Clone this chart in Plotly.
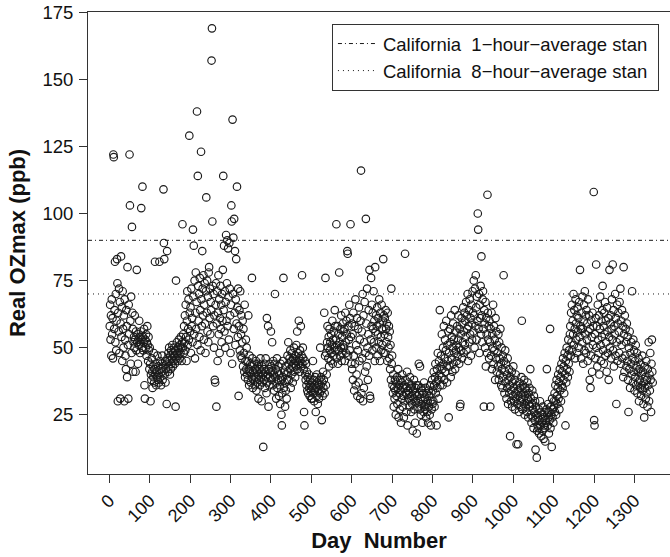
import plotly.graph_objects as go

# Daily maximum ozone (ppb), day 1 onward
ozmax = [
    58, 66, 53, 62, 47, 68, 55, 61, 46, 122, 121, 57, 64, 82, 52, 70, 49, 60, 83, 74,
    30, 63, 56, 72, 48, 67, 31, 59, 84, 54, 65, 45, 71, 57, 50, 62, 30, 68, 53, 47,
    42, 64, 58, 39, 80, 51, 31, 66, 55, 122, 103, 60, 44, 69, 48, 95, 63, 57, 41, 52,
    54, 50, 62, 53, 41, 56, 49, 79, 52, 55, 44, 53, 51, 60, 54, 48, 52, 56, 102, 53,
    50, 110, 54, 49, 52, 57, 36, 31, 53, 50, 55, 47, 52, 58, 51, 45, 54, 49, 42, 50,
    44, 30, 40, 38, 46, 41, 35, 43, 39, 48, 37, 42, 82, 40, 44, 36, 41, 39, 47, 38,
    43, 40, 37, 82, 45, 39, 42, 36, 44, 41, 47, 38, 43, 109, 89, 83, 40, 45, 37, 42,
    44, 29, 86, 46, 41, 48, 43, 50, 45, 40, 47, 42, 49, 44, 46, 51, 43, 48, 45, 50,
    47, 44, 49, 28, 75, 46, 52, 48, 45, 50, 47, 53, 49, 46, 51, 48, 54, 50, 45, 52,
    96, 50, 55, 48, 58, 52, 62, 49, 66, 54, 45, 60, 71, 51, 57, 68, 53, 129, 63, 56,
    65, 48, 72, 58, 61, 52, 94, 69, 88, 55, 75, 46, 63, 78, 57, 67, 138, 51, 114, 73,
    60, 70, 54, 76, 64, 49, 123, 68, 58, 86, 72, 62, 77, 53, 66, 74, 59, 48, 71, 106,
    63, 75, 56, 69, 52, 78, 80, 61, 72, 55, 67, 64, 157, 169, 97, 73, 58, 70, 50, 62,
    38, 37, 66, 74, 28, 59, 71, 45, 63, 77, 55, 68, 48, 61, 73, 57, 66, 52, 70, 60,
    79, 114, 64, 88, 56, 71, 50, 67, 92, 60, 74, 90, 58, 87, 69, 53, 89, 72, 62, 48,
    66, 103, 97, 44, 135, 70, 91, 57, 98, 63, 86, 51, 68, 83, 59, 110, 65, 54, 72, 32,
    58, 64, 49, 71, 47, 55, 62, 46, 52, 60, 43, 57, 48, 41, 66, 39, 45, 53, 42, 50,
    40, 45, 38, 62, 42, 36, 47, 41, 44, 37, 43, 39, 76, 46, 35, 41, 38, 44, 40, 36,
    42, 39, 45, 34, 41, 37, 43, 40, 31, 44, 38, 42, 36, 46, 39, 41, 30, 43, 37, 40,
    13, 42, 38, 44, 35, 41, 46, 39, 33, 61, 37, 40, 58, 28, 42, 36, 44, 39, 41, 56,
    43, 38, 52, 41, 36, 45, 40, 34, 44, 70, 39, 42, 31, 37, 46, 35, 41, 38, 43, 32,
    40, 36, 29, 44, 38, 25, 21, 33, 39, 45, 76, 35, 41, 37, 28, 43, 34, 40, 31, 38,
    47, 41, 52, 44, 38, 46, 42, 49, 35, 45, 40, 48, 43, 37, 46, 44, 50, 41, 45, 39,
    47, 43, 51, 45, 56, 42, 48, 44, 60, 46, 41, 49, 45, 58, 43, 47, 77, 44, 50, 46,
    42, 26, 21, 45, 40, 38, 44, 36, 41, 34, 39, 33, 37, 40, 35, 32, 38, 36, 34, 31,
    37, 31, 35, 45, 33, 38, 30, 36, 34, 39, 26, 35, 32, 40, 37, 29, 34, 36, 31, 38,
    33, 50, 36, 39, 34, 23, 37, 32, 41, 35, 38, 63, 33, 47, 76, 36, 48, 40, 52, 58,
    50, 46, 54, 43, 57, 49, 52, 45, 55, 48, 51, 60, 44, 53, 47, 56, 50, 64, 58, 49,
    53, 96, 46, 51, 58, 44, 55, 49, 78, 52, 47, 57, 50, 62, 45, 54, 48, 59, 51, 56,
    50, 57, 45, 63, 52, 48, 60, 55, 86, 85, 47, 58, 53, 66, 49, 61, 96, 54, 44, 59,
    42, 55, 38, 63, 47, 34, 58, 44, 68, 36, 51, 40, 61, 32, 49, 57, 37, 65, 45, 53,
    31, 60, 116, 33, 56, 46, 70, 30, 62, 35, 52, 67, 41, 48, 98, 59, 43, 72, 50, 38,
    55, 64, 47, 79, 32, 31, 53, 76, 58, 66, 49, 63, 57, 71, 52, 60, 45, 80, 56, 62,
    50, 58, 65, 47, 55, 61, 52, 68, 59, 45, 63, 54, 49, 66, 57, 51, 60, 83, 48, 62,
    55, 61, 48, 64, 57, 52, 59, 45, 63, 54, 50, 58, 46, 56, 42, 51, 38, 72, 44, 47,
    36, 33, 40, 28, 35, 31, 38, 34, 25, 37, 32, 39, 29, 35, 42, 24, 36, 33, 27, 38,
    34, 22, 37, 31, 40, 28, 35, 32, 24, 36, 30, 85, 38, 33, 26, 35, 41, 21, 34, 31,
    37, 33, 28, 39, 30, 35, 26, 32, 36, 29, 19, 34, 31, 38, 27, 33, 22, 35, 30, 36,
    18, 32, 28, 36, 30, 44, 33, 27, 43, 31, 25, 35, 29, 34, 22, 30, 33, 26, 37, 28,
    31, 27, 35, 24, 29, 33, 26, 30, 22, 34, 28, 32, 25, 36, 30, 21, 33, 27, 38, 29,
    34, 30, 41, 36, 28, 39, 44, 33, 37, 21, 42, 35, 48, 38, 31, 45, 40, 64, 36, 43,
    47, 39, 55, 42, 36, 50, 44, 58, 38, 46, 53, 41, 49, 60, 43, 37, 51, 45, 56, 24,
    48, 43, 57, 52, 39, 62, 46, 54, 41, 50, 59, 44, 53, 48, 64, 42, 56, 49, 51, 45,
    58, 47, 53, 62, 50, 44, 57, 28, 29, 55, 49, 61, 46, 59, 52, 65, 48, 56, 63, 51,
    60, 54, 67, 49, 62, 57, 70, 45, 58, 64, 52, 68, 55, 61, 47, 66, 59, 53, 71, 63,
    56, 75, 62, 50, 72, 58, 77, 65, 53, 69, 60, 100, 94, 57, 70, 48, 66, 61, 73, 55,
    84, 62, 52, 68, 71, 57, 28, 64, 59, 50, 67, 43, 61, 55, 48, 107, 63, 53, 58, 46,
    60, 52, 28, 57, 47, 63, 42, 55, 50, 66, 44, 58, 49, 53, 38, 61, 46, 56, 41, 51,
    48, 43, 55, 38, 52, 46, 40, 57, 44, 36, 50, 42, 35, 47, 39, 77, 45, 33, 41, 49,
    37, 44, 31, 40, 35, 46, 29, 38, 42, 33, 36, 17, 39, 30, 34, 41, 28, 37, 32, 43,
    35, 30, 38, 27, 33, 40, 31, 14, 36, 29, 34, 14, 32, 26, 37, 30, 35, 28, 33, 39,
    60, 31, 27, 36, 33, 29, 38, 25, 32, 35, 28, 34, 30, 26, 37, 31, 24, 33, 29, 35,
    28, 42, 25, 31, 22, 29, 34, 24, 27, 20, 32, 26, 23, 30, 12, 28, 25, 9, 19, 21,
    24, 20, 27, 18, 23, 30, 21, 26, 17, 25, 22, 19, 28, 24, 16, 21, 26, 20, 15, 23,
    22, 27, 42, 25, 21, 29, 24, 18, 26, 23, 57, 20, 28, 25, 13, 31, 24, 27, 22, 30,
    28, 33, 26, 36, 30, 25, 38, 32, 29, 35, 40, 31, 37, 27, 42, 34, 39, 30, 44, 36,
    41, 35, 46, 38, 43, 33, 48, 40, 21, 45, 37, 50, 42, 47, 39, 53, 44, 49, 41, 55,
    58, 47, 63, 52, 66, 49, 60, 55, 70, 51, 64, 57, 46, 68, 59, 53, 62, 48, 65, 56,
    61, 50, 67, 54, 79, 58, 57, 46, 63, 52, 69, 57, 44, 60, 66, 49, 71, 55, 62, 48,
    64, 53, 59, 45, 68, 56, 50, 62, 38, 57, 35, 47, 60, 54, 41, 63, 51, 58, 108, 23,
    21, 55, 46, 61, 81, 50, 58, 43, 66, 53, 48, 62, 40, 57, 69, 51, 45, 60, 54, 64,
    73, 49, 58, 44, 63, 55, 67, 47, 60, 52, 41, 65, 56, 48, 61, 38, 54, 79, 50, 59,
    62, 46, 57, 68, 53, 81, 49, 64, 43, 58, 55, 70, 47, 61, 29, 52, 66, 45, 59, 63,
    56, 48, 67, 53, 72, 44, 60, 51, 64, 46, 58, 39, 80, 55, 41, 62, 47, 57, 52, 43,
    59, 45, 54, 38, 26, 50, 42, 56, 35, 48, 44, 52, 40, 71, 46, 37, 53, 41, 49, 34,
    45, 39, 51, 36, 43, 48, 33, 41, 37, 46, 30, 42, 38, 35, 44, 32, 40, 36, 47, 34,
    41, 29, 37, 24, 43, 35, 39, 31, 45, 33, 38, 28, 42, 36, 52, 30, 40, 34, 48, 38,
    26, 44, 53, 41, 37,
]
day_number = list(range(1, len(ozmax) + 1))

std_1hr = 90
std_8hr = 70
legend_labels = ["California\u00a0 1\u2212hour\u2212average stan\u00a0",
                 "California\u00a0 8\u2212hour\u2212average stan\u00a0"]

x_ticks = list(range(0, 1301, 100))
y_ticks = [25, 50, 75, 100, 125, 150, 175]
x_range = [-52.8, 1387.8]
y_range = [2.9, 175.1]

ink = "#1a1a1a"
font_family = "Liberation Sans, Arial, sans-serif"

fig = go.Figure()
fig.add_trace(go.Scatter(
    x=day_number, y=ozmax, mode="markers", showlegend=False,
    marker=dict(symbol="circle-open", size=7.5, color=ink, line=dict(width=1.15, color=ink)),
))
fig.add_trace(go.Scatter(
    x=x_range, y=[std_1hr, std_1hr], mode="lines", name=legend_labels[0],
    line=dict(color=ink, width=1, dash="4px,3px,1px,3px"),
))
fig.add_trace(go.Scatter(
    x=x_range, y=[std_8hr, std_8hr], mode="lines", name=legend_labels[1],
    line=dict(color=ink, width=1, dash="1px,4px"),
))

fig.update_layout(
    width=670, height=557,
    margin=dict(l=88, r=0, t=12, b=83),
    paper_bgcolor="white", plot_bgcolor="white",
    font=dict(family=font_family, size=18.5, color="#111"),
    legend=dict(x=0.981, y=0.974, xanchor="right", yanchor="top",
                bgcolor="white", bordercolor="#333", borderwidth=1,
                font=dict(size=18.5), tracegroupgap=0, itemwidth=40),
    xaxis=dict(range=x_range, tickvals=x_ticks, ticktext=[str(v) for v in x_ticks],
               tickangle=-45, ticks="outside", ticklen=8, tickcolor="#333",
               showline=True, linecolor="#333", mirror=True, showgrid=False,
               zeroline=False, tickfont=dict(size=18),
               title=dict(text="Day\u00a0 Number", font=dict(size=22, weight="bold"), standoff=0)),
    yaxis=dict(range=y_range, tickvals=y_ticks, ticks="outside", ticklen=8, tickcolor="#333",
               showline=True, linecolor="#333", mirror=False, showgrid=False,
               zeroline=False, tickfont=dict(size=18.5), ticklabelstandoff=2,
               title=dict(text="Real OZmax (ppb)", font=dict(size=22, weight="bold"), standoff=10)),
)

fig.write_html("out.html")
